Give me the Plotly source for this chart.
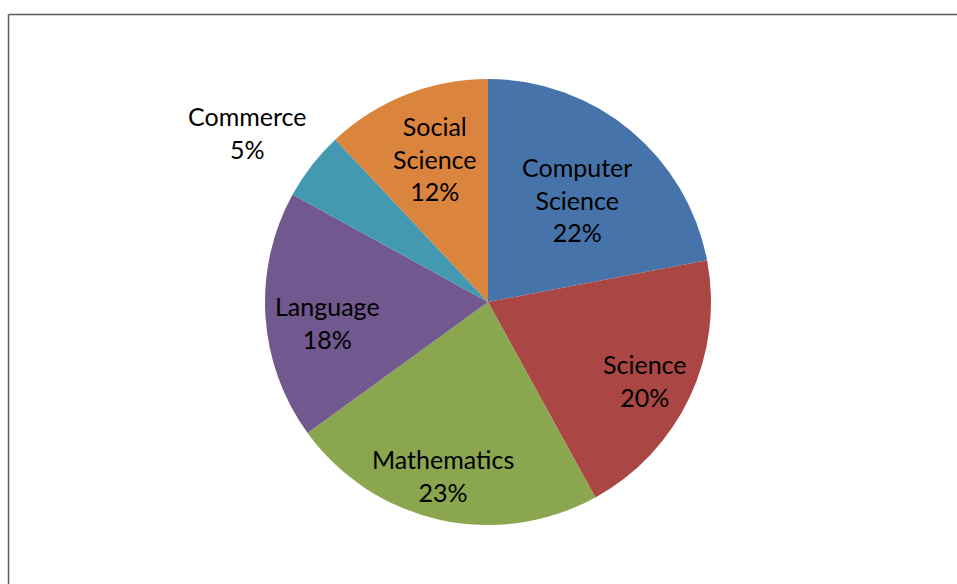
import math
import plotly.graph_objects as go

# Share of students by subject stream
subjects = ["Computer Science", "Science", "Mathematics", "Language", "Commerce", "Social Science"]
shares = [22, 20, 23, 18, 5, 12]
label_text = ["Computer<br>Science<br>22%", "Science<br>20%", "Mathematics<br>23%",
              "Language<br>18%", "Commerce<br>5%", "Social<br>Science<br>12%"]

colors = ["#4674AA", "#AA4644", "#8AA64F", "#71588F", "#4299B0", "#DB843E"]
# label placement: distance from centre (fraction of radius) and angular nudge from the slice's mid-angle
label_radius = [0.61, 0.788, 0.802, 0.728, 1.322, 0.688]
label_nudge = [1.2, 1.5, 2.0, -3.8, -2.6, 1.4]

W, H = 957, 584
cx, cy, R = 488, 302, 223

fig = go.Figure(go.Pie(
    labels=subjects,
    values=shares,
    sort=False,
    direction="clockwise",
    rotation=0,
    marker=dict(colors=colors, line=dict(width=0)),
    textinfo="none",
    hoverinfo="label+percent",
    showlegend=False,
    domain=dict(x=[(cx - R) / W, (cx + R) / W], y=[1 - (cy + R) / H, 1 - (cy - R) / H]),
))

# place each label around its slice's mid-angle
total = sum(shares)
start = 0.0
annotations = []
for txt, v, f, d in zip(label_text, shares, label_radius, label_nudge):
    mid = start + v / total * 360 / 2
    start += v / total * 360
    a = math.radians(mid + d)
    px = cx + f * R * math.sin(a)
    py = cy - f * R * math.cos(a)
    annotations.append(dict(
        x=px / W, y=1 - py / H, xref="paper", yref="paper",
        xanchor="center", yanchor="middle",
        text=txt, showarrow=False, align="center",
        font=dict(family="Lato", size=25, color="#000000"),
    ))

fig.update_layout(
    width=W, height=H,
    margin=dict(l=0, r=0, t=0, b=0),
    paper_bgcolor="white",
    plot_bgcolor="white",
    annotations=annotations,
    shapes=[
        dict(type="line", xref="paper", yref="paper", x0=8.5 / W, x1=1.01, y0=1 - 14.5 / H, y1=1 - 14.5 / H,
             line=dict(color="#5a5a5a", width=1.5)),
        dict(type="line", xref="paper", yref="paper", x0=8.5 / W, x1=8.5 / W, y0=1 - 14.5 / H, y1=-0.01,
             line=dict(color="#5a5a5a", width=1.5)),
    ],
)

fig.write_html("out.html")
